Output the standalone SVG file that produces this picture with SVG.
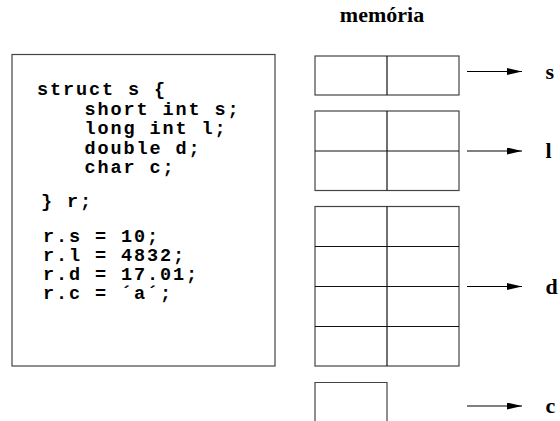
<svg xmlns="http://www.w3.org/2000/svg" width="560" height="421" viewBox="0 0 560 421">
<defs>
<style>
.code{font-family:"Liberation Mono","Courier New",monospace;font-weight:bold;font-size:18.5px;letter-spacing:1.9px;fill:#000}
.lbl{font-family:"Liberation Serif","Times New Roman",serif;font-weight:bold;font-size:22px;fill:#000}
.box{fill:none;stroke:#444;stroke-width:1.2}
.div{fill:none;stroke:#111;stroke-width:1.2}
.arr{fill:none;stroke:#000;stroke-width:1}
</style>
<marker id="ah" markerWidth="15" markerHeight="7" refX="15" refY="3.5" orient="auto" markerUnits="userSpaceOnUse">
<path d="M0,0 L15,3.5 L0,7 Z" fill="#000"/>
</marker>
</defs>
<rect width="560" height="421" fill="#fff"/>
<g id="code">
<rect x="12" y="54.5" width="263" height="311.5" class="box"/>
<text class="code" x="37" y="95">struct s {</text>
<text class="code" x="84.5" y="114.5">short int s;</text>
<text class="code" x="84.5" y="134">long int l;</text>
<text class="code" x="84.5" y="153.5">double d;</text>
<text class="code" x="84.5" y="173">char c;</text>
<text class="code" x="41" y="207">} r;</text>
<text class="code" x="43" y="242">r.s = 10;</text>
<text class="code" x="43" y="261">r.l = 4832;</text>
<text class="code" x="43" y="280">r.d = 17.01;</text>
<text class="code" x="43" y="299">r.c = ´a´;</text>
</g>
<g id="memoria">
<text class="lbl" x="382" y="22" text-anchor="middle">memória</text>
</g>
<g id="mem-s">
<rect x="315" y="56" width="144" height="39" class="box"/>
<line x1="387" y1="56" x2="387" y2="95" class="div"/>
</g>
<g id="mem-l">
<rect x="315" y="111" width="144" height="79.5" class="box"/>
<line x1="387" y1="111" x2="387" y2="190.5" class="div"/>
<line x1="315" y1="151" x2="459" y2="151" class="div"/>
</g>
<g id="mem-d">
<rect x="315" y="206.5" width="144" height="159.5" class="box"/>
<line x1="387" y1="206.5" x2="387" y2="366" class="div"/>
<line x1="315" y1="246.5" x2="459" y2="246.5" class="div"/>
<line x1="315" y1="286.5" x2="459" y2="286.5" class="div"/>
<line x1="315" y1="326.5" x2="459" y2="326.5" class="div"/>
</g>
<g id="mem-c">
<path d="M315,422 V382.5 H387 V422" class="box"/>
</g>
<g id="connectors">
<line x1="467" y1="71.5" x2="522" y2="71.5" class="arr" marker-end="url(#ah)"/>
<line x1="467" y1="151" x2="522" y2="151" class="arr" marker-end="url(#ah)"/>
<line x1="467" y1="286.5" x2="522" y2="286.5" class="arr" marker-end="url(#ah)"/>
<line x1="467" y1="406" x2="522" y2="406" class="arr" marker-end="url(#ah)"/>
</g>
<g id="labels">
<text class="lbl" x="545.5" y="78.5">s</text>
<text class="lbl" x="545.5" y="158">l</text>
<text class="lbl" x="545.5" y="294">d</text>
<text class="lbl" x="545.5" y="413">c</text>
</g>
</svg>
